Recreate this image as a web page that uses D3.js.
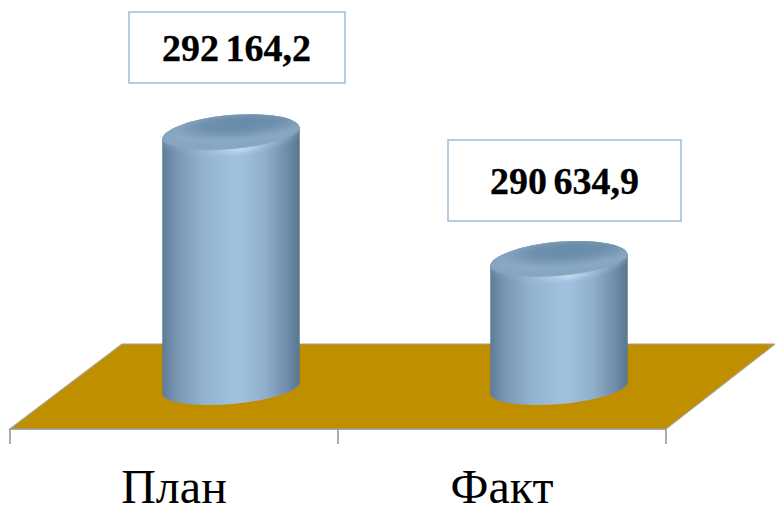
<!DOCTYPE html>
<html>
<head>
<meta charset="utf-8">
<script src="https://cdn.jsdelivr.net/npm/d3@7"></script>
<style>
html, body { margin: 0; padding: 0; background: #fff; }
svg { display: block; }
.axis-label text { font-family: "Liberation Serif", serif; font-size: 48px; fill: #000; }
.value-label { font-family: "Liberation Serif", serif; font-size: 38px; font-weight: bold; fill: #000; stroke: #000; stroke-width: 0.3; word-spacing: -3px; text-anchor: middle; }
</style>
</head>
<body>
<svg></svg>
<script>
var categories = ["План", "Факт"];
var values = [292164.2, 290634.9];
var valueLabels = ["292 164,2", "290 634,9"];
var axisMin = 289100;

var width = 775, height = 506;
var svg = d3.select("svg").attr("width", width).attr("height", height);

//front edge of the floor, the bars stand further back by depth
var x = d3.scaleBand().domain(categories).range([10, 666]);
var y = d3.scaleLinear().domain([axisMin, d3.max(values)]).range([388, 134]);
var floorFront = 429, floorBack = 344, depth = 57;
var rx = 69, tilt = -5;

var defs = svg.append("defs");

var body = defs.append("linearGradient").attr("id", "bodyGrad");
[[0, "#5f7c98"], [0.12, "#7b98b4"], [0.3, "#93b3d0"], [0.55, "#a2c3e0"], [0.75, "#8fafcb"], [0.92, "#6d8aa6"], [1, "#587590"]]
    .forEach(function (s) { body.append("stop").attr("offset", s[0]).attr("stop-color", s[1]); });

var cap = defs.append("radialGradient").attr("id", "capGrad")
    .attr("cx", 0.56).attr("cy", 0.3).attr("r", 0.6);
[[0, "#688aa9"], [0.5, "#6e8fae"], [0.8, "#7f9fbb"], [1, "#8dabc5"]]
    .forEach(function (s) { cap.append("stop").attr("offset", s[0]).attr("stop-color", s[1]); });

var rim = defs.append("linearGradient").attr("id", "rimGrad");
[[0, "#6f8ca8"], [0.4, "#a9c8e0"], [0.58, "#c6dff1"], [0.75, "#9dbbd4"], [1, "#6c89a4"]]
    .forEach(function (s) { rim.append("stop").attr("offset", s[0]).attr("stop-color", s[1]); });

defs.append("filter").attr("id", "soft").append("feGaussianBlur").attr("stdDeviation", 0.6);
defs.append("filter").attr("id", "softer").append("feGaussianBlur").attr("stdDeviation", 2);

//floor
svg.append("polygon")
    .attr("points", [
        [x.range()[0], floorFront], [x.range()[1], floorFront],
        [x.range()[1] + 109, floorBack], [x.range()[0] + 112, floorBack]
    ].join(" "))
    .attr("fill", "#bf8f00")
    .attr("stroke", "#a9a08a")
    .attr("stroke-width", 1.2);

//axis with ticks between the categories
var axis = d3.axisBottom(x).tickSize(0).tickPadding(40);
var gAxis = svg.append("g").attr("class", "axis-label")
    .attr("transform", "translate(0," + floorFront + ")")
    .call(axis);
gAxis.select(".domain").remove();
gAxis.selectAll("text").attr("dy", "0.71em");

var tickPos = categories.map(function (c) { return x(c); }).concat([x.range()[1]]);
svg.append("g").selectAll("line")
    .data(tickPos)
    .enter().append("line")
    .attr("x1", function (d) { return d; })
    .attr("x2", function (d) { return d; })
    .attr("y1", floorFront)
    .attr("y2", floorFront + 15)
    .attr("stroke", "#999")
    .attr("stroke-width", 1.6);
svg.append("line")
    .attr("x1", x.range()[0]).attr("x2", x.range()[1])
    .attr("y1", floorFront).attr("y2", floorFront)
    .attr("stroke", "#999").attr("stroke-width", 1.4);

//cylinders
var rad = tilt * Math.PI / 180;
var dx = rx * Math.cos(rad), dy = rx * Math.sin(rad);
var baseY = y(axisMin);

function cx(i) { return x(categories[i]) + x.bandwidth() / 2 + depth; }

//outline of one cylinder, top arc bulges up, bottom arc bulges down
function outline(d, i) {
    var c = cx(i), top = y(d);
    return "M" + (c - dx) + "," + (top - dy) +
        "L" + (c - dx) + "," + (baseY - dy) +
        "A" + rx + ",16 " + tilt + " 0 0 " + (c + dx) + "," + (baseY + dy) +
        "L" + (c + dx) + "," + (top + dy) +
        "A" + rx + ",19 " + tilt + " 0 0 " + (c - dx) + "," + (top - dy) + "Z";
}

defs.selectAll("clipPath")
    .data(values)
    .enter().append("clipPath")
    .attr("id", function (d, i) { return "barClip" + i; })
    .append("path")
    .attr("d", outline);

var bars = svg.append("g").selectAll("g")
    .data(values)
    .enter().append("g")
    .attr("filter", "url(#soft)");

bars.append("path")
    .attr("fill", "url(#bodyGrad)")
    .attr("d", outline);

var inner = bars.append("g")
    .attr("clip-path", function (d, i) { return "url(#barClip" + i + ")"; });

//lit front edge under the cap
inner.append("ellipse")
    .attr("rx", rx + 1).attr("ry", 18)
    .attr("transform", function (d, i) { return "translate(" + cx(i) + "," + (y(d) + 1) + ") rotate(" + tilt + ")"; })
    .attr("fill", "url(#rimGrad)")
    .attr("filter", "url(#softer)");

//shoulder and dished top
inner.append("ellipse")
    .attr("rx", rx + 2).attr("ry", 18)
    .attr("transform", function (d, i) { return "translate(" + cx(i) + "," + (y(d) - 3) + ") rotate(" + tilt + ")"; })
    .attr("fill", "#86a5c0")
    .attr("filter", "url(#soft)");
inner.append("ellipse")
    .attr("rx", rx - 6).attr("ry", 14)
    .attr("transform", function (d, i) { return "translate(" + (cx(i) + 4) + "," + (y(d) - 5) + ") rotate(" + tilt + ")"; })
    .attr("fill", "url(#capGrad)")
    .attr("filter", "url(#softer)");

//value boxes
var boxW = [216, 233], boxH = [71, 81], boxX = [129, 448], boxY = [12, 140];
var boxes = svg.append("g").selectAll("g")
    .data(valueLabels)
    .enter().append("g");
boxes.append("rect")
    .attr("x", function (d, i) { return boxX[i]; })
    .attr("y", function (d, i) { return boxY[i]; })
    .attr("width", function (d, i) { return boxW[i]; })
    .attr("height", function (d, i) { return boxH[i]; })
    .attr("fill", "#fff")
    .attr("stroke", "#a0c0de")
    .attr("stroke-width", 1.6);
boxes.append("text")
    .attr("class", "value-label")
    .attr("x", function (d, i) { return boxX[i] + boxW[i] / 2 + (i ? 0 : -0.5); })
    .attr("y", function (d, i) { return boxY[i] + boxH[i] / 2 + 13; })
    .text(function (d) { return d; });
</script>
</body>
</html>
